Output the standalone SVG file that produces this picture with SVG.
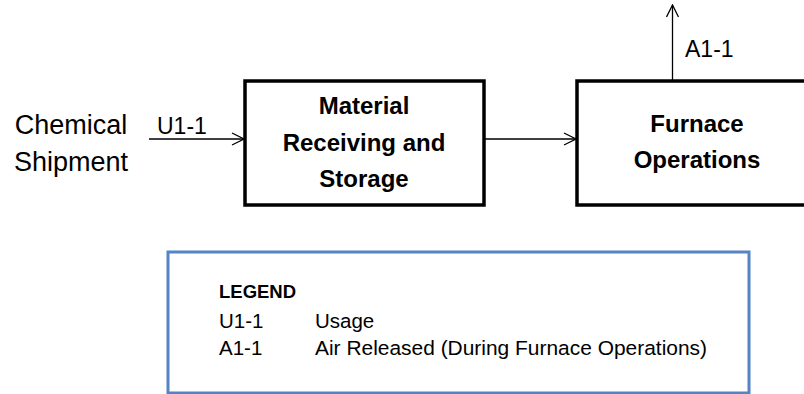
<svg xmlns="http://www.w3.org/2000/svg" width="804" height="394" viewBox="0 0 804 394">
<style>
text{font-family:"Liberation Sans",Arial,sans-serif;fill:#000}
.box{fill:#fff;stroke:#000;stroke-width:3.5}
.lbl{font-size:24px;font-weight:bold;text-anchor:middle}
.plain{font-size:27px;text-anchor:middle}
.code{font-size:23px}
.leg{font-size:20.5px}
.conn line{stroke:#000;stroke-width:1.3;fill:none}
</style>
<defs>
<marker id="arr" viewBox="0 0 14 14" refX="13" refY="7" markerWidth="14" markerHeight="14" markerUnits="userSpaceOnUse" orient="auto">
<path d="M1,1 L13,7 L1,13" fill="none" stroke="#000" stroke-width="1.3"/>
</marker>
</defs>
<rect width="804" height="394" fill="#fff"/>
<g id="source">
<text class="plain" x="71" y="134">Chemical</text>
<text class="plain" x="71" y="171">Shipment</text>
</g>
<g id="node-receiving">
<rect class="box" x="245" y="81" width="239" height="124"/>
<text class="lbl" x="364" y="114">Material</text>
<text class="lbl" x="364" y="151">Receiving and</text>
<text class="lbl" x="364" y="187">Storage</text>
</g>
<g id="node-furnace">
<rect class="box" x="577" y="81" width="240" height="124"/>
<text class="lbl" x="697" y="132">Furnace</text>
<text class="lbl" x="697" y="168">Operations</text>
</g>
<g class="conn" id="connectors">
<line x1="149" y1="139" x2="244" y2="139" marker-end="url(#arr)"/>
<line x1="484" y1="139" x2="576" y2="139" marker-end="url(#arr)"/>
<line x1="672.5" y1="80" x2="672.5" y2="5" marker-end="url(#arr)"/>
<text class="code" x="157" y="134">U1-1</text>
<text class="code" x="685" y="57">A1-1</text>
</g>
<g id="legend">
<rect x="168" y="252" width="581" height="141" fill="#fff" stroke="#5584C4" stroke-width="3"/>
<text x="219" y="298" style="font-size:18.5px;font-weight:bold">LEGEND</text>
<text class="leg" x="219" y="328">U1-1</text>
<text class="leg" x="315" y="328">Usage</text>
<text class="leg" x="219" y="355">A1-1</text>
<text class="leg" x="315" y="355" textLength="392" lengthAdjust="spacingAndGlyphs">Air Released (During Furnace Operations)</text>
</g>
</svg>
